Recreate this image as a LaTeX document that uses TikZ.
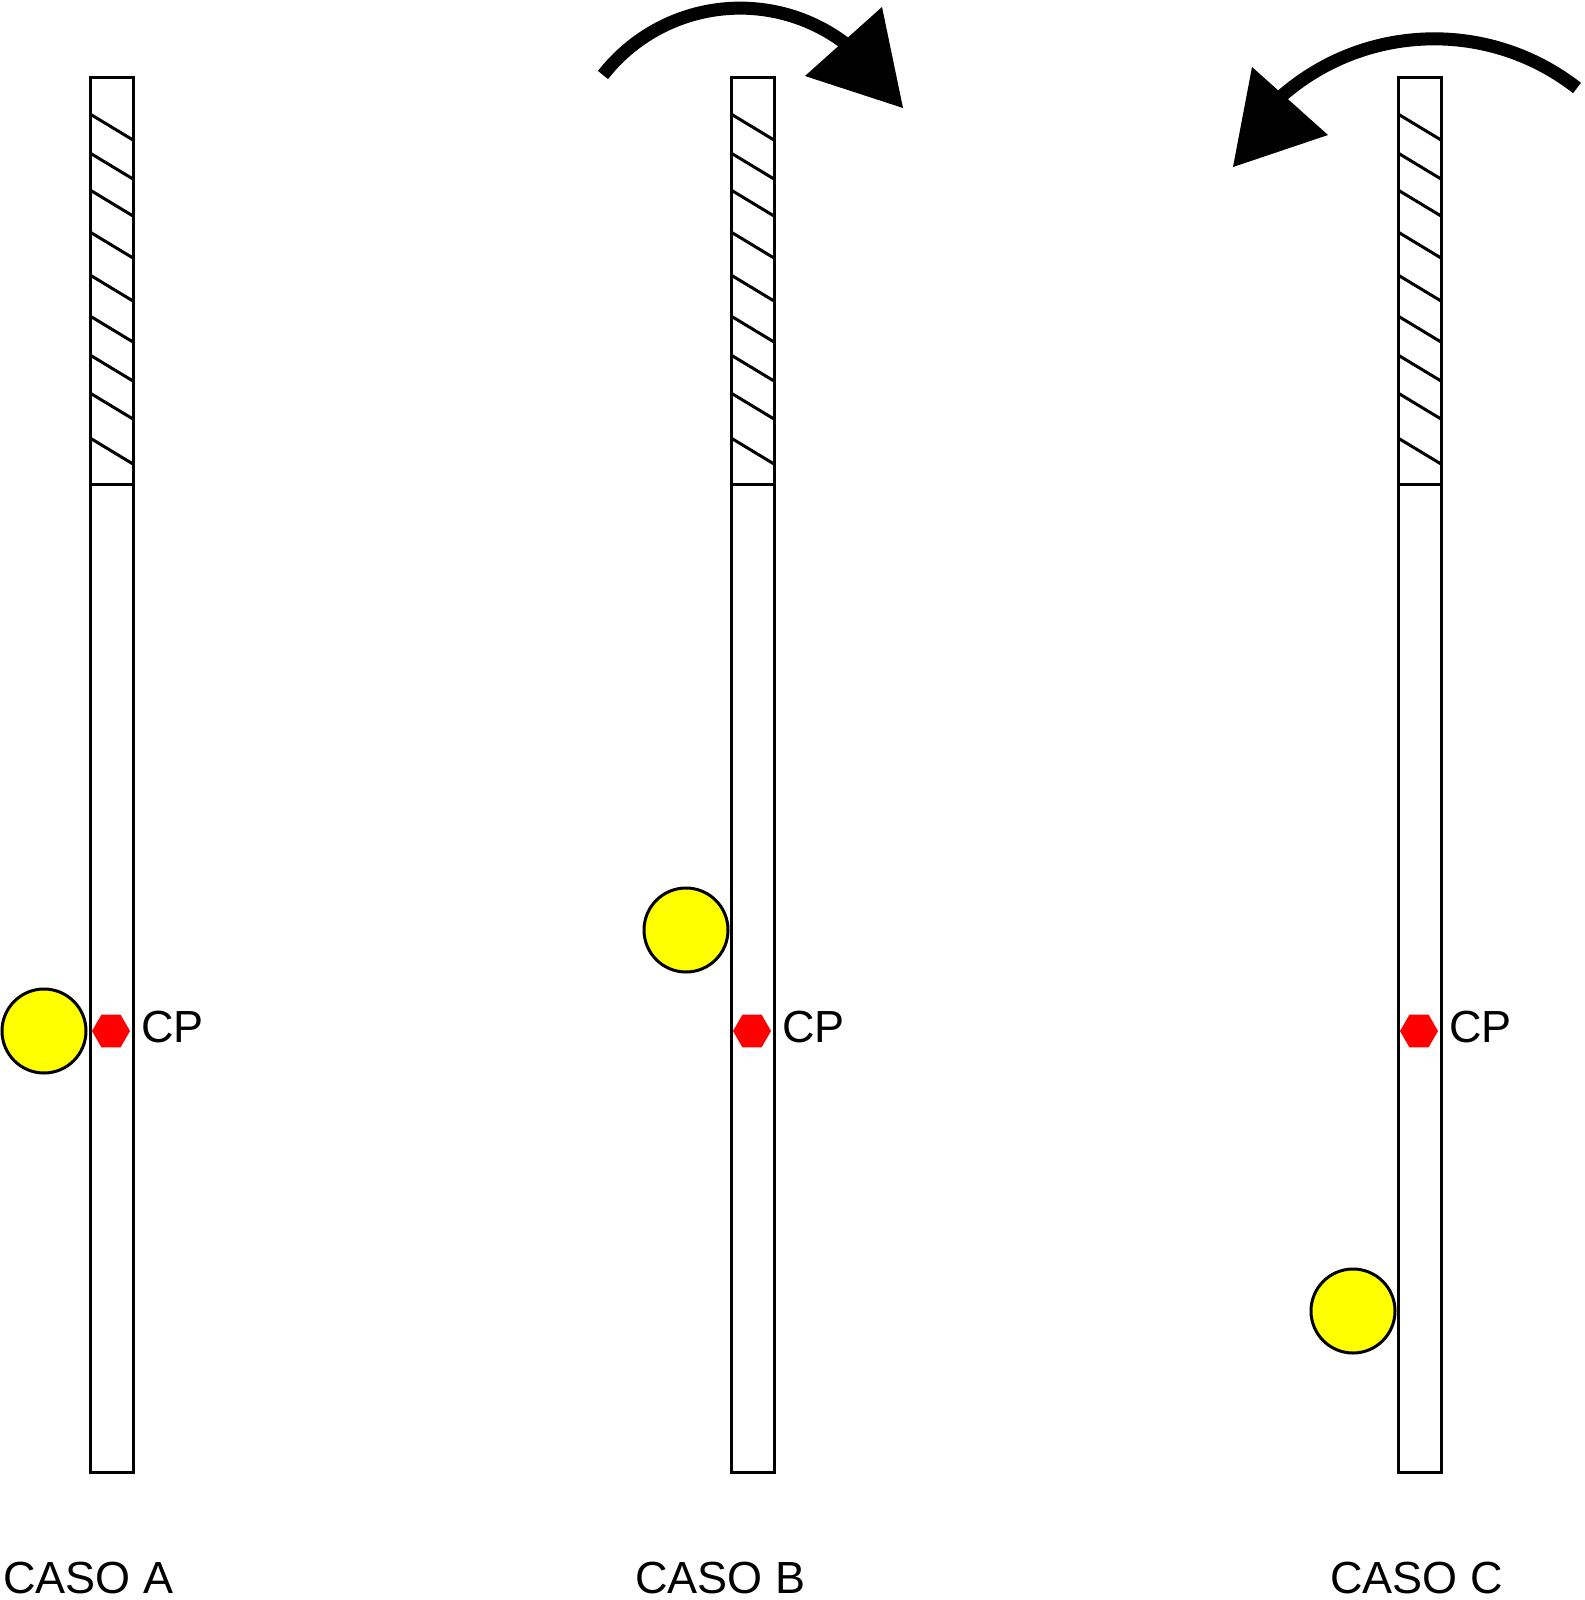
\documentclass[tikz,border=0pt]{standalone}
\usepackage{fontspec}
\setmainfont{Liberation Sans}
\usetikzlibrary{shapes.geometric}
\definecolor{ballyellow}{RGB}{255,255,0}
\definecolor{cpred}{RGB}{255,0,0}
\tikzset{
  barline/.style={line width=3pt, draw=black},
  ball/.style={circle, draw=black, line width=3pt, fill=ballyellow, minimum size=84pt, inner sep=0pt},
  cpmark/.style={regular polygon, regular polygon sides=6, fill=cpred, draw=none, minimum size=38pt, inner sep=0pt},
  lbl/.style={font=\fontsize{45}{50}\selectfont, inner sep=0pt, anchor=base west},
  rotarc/.style={line width=13pt, draw=black},
  rothead/.style={fill=black, draw=none}
}
\newcommand\drawbar[1]{%
  \draw[barline] (#1,78) rectangle (#1+43,1472);
  \draw[barline] (#1,484) -- (#1+43,484);
  \foreach \ya in {114,153,190,232,275,316,355,393,438}{
    \draw[barline] (#1,\ya) -- (#1+43,\ya+26);
  }
}
\begin{document}
\begin{tikzpicture}[x=1pt,y=-1pt]
\useasboundingbox (0,0) rectangle (1584,1600);
% bars
\drawbar{90}
\drawbar{731}
\drawbar{1398}
% balls
\node[ball] (ballA) at (44,1031) {};
\node[ball] (ballB) at (686,930) {};
\node[ball] (ballC) at (1353,1311) {};
% CP markers
\node[cpmark] (cpA) at (111,1031) {};
\node[cpmark] (cpB) at (752,1031) {};
\node[cpmark] (cpC) at (1419,1031) {};
\node[lbl] (cpAt) at (141,1042) {CP};
\node[lbl] (cpBt) at (782,1042) {CP};
\node[lbl] (cpCt) at (1449,1042) {CP};
% case labels
\node[lbl] (casoA) at (3,1593) {CASO A};
\node[lbl] (casoB) at (635,1593) {CASO B};
\node[lbl] (casoC) at (1330,1593) {CASO C};
% rotation arrows
\draw[rotarc] (603,75) arc[start angle=-142, end angle=-47, radius=174];
\fill[rothead] (805,76) -- (882,7) -- (903,108) -- cycle;
\draw[rotarc] (1577,88) arc[start angle=-52, end angle=-134, radius=232];
\fill[rothead] (1252,67) -- (1328,135) -- (1233,167) -- cycle;
\end{tikzpicture}
\end{document}
